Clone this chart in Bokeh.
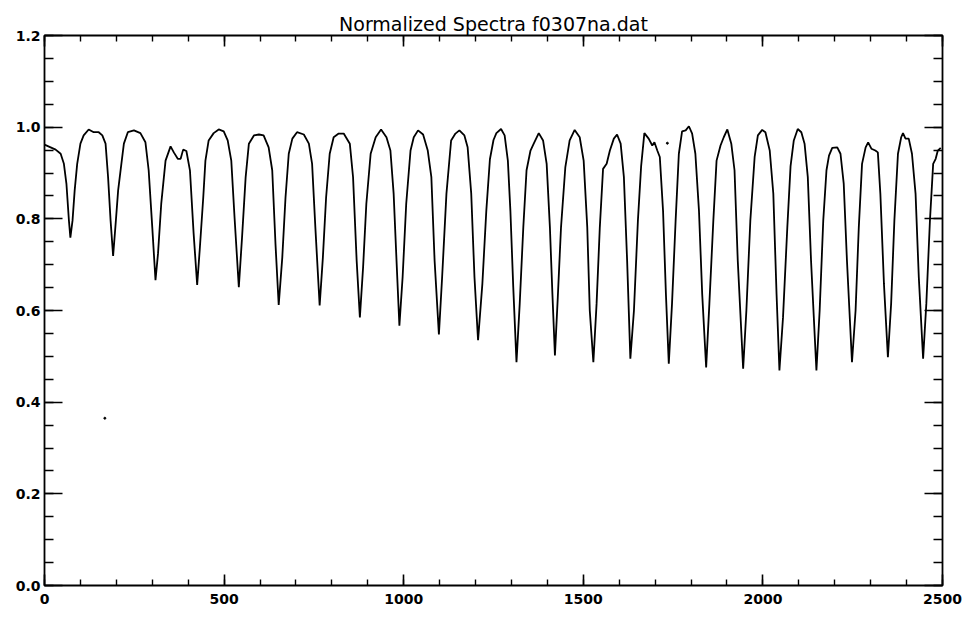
from bokeh.plotting import figure
from bokeh.models import Range1d, LinearAxis, FixedTicker, PrintfTickFormatter, CustomJSTickFormatter
from bokeh.embed import file_html
from bokeh.resources import INLINE

# ---- data ----
pixel = [0, 17, 31, 45, 54, 61, 68, 72, 78, 84, 91, 100, 109, 123, 137, 151, 161, 170, 177, 184,
         191, 198, 205, 214, 221, 232, 249, 267, 281, 290, 300, 309, 316, 325, 337, 351, 360, 371, 379, 386,
         395, 405, 415, 425, 432, 442, 448, 457, 471, 485, 499, 510, 520, 529, 541, 550, 560, 569, 583, 597,
         610, 624, 634, 643, 652, 662, 671, 680, 690, 703, 722, 736, 745, 754, 766, 775, 784, 794, 805, 819,
         833, 850, 859, 869, 878, 887, 896, 908, 922, 937, 952, 963, 972, 980, 988, 997, 1007, 1019, 1028, 1040,
         1054, 1067, 1077, 1086, 1098, 1107, 1119, 1132, 1144, 1155, 1169, 1178, 1188, 1197, 1207, 1219, 1230, 1240, 1250, 1258,
         1271, 1281, 1290, 1297, 1305, 1314, 1323, 1333, 1342, 1353, 1362, 1376, 1388, 1398, 1407, 1414, 1421, 1429, 1438, 1450,
         1462, 1476, 1490, 1501, 1511, 1518, 1528, 1537, 1546, 1555, 1565, 1574, 1585, 1594, 1604, 1613, 1622, 1631, 1641, 1652,
         1661, 1670, 1682, 1692, 1698, 1706, 1713, 1722, 1730, 1738, 1747, 1757, 1766, 1775, 1785, 1794, 1803, 1812, 1822, 1831,
         1842, 1851, 1862, 1871, 1882, 1891, 1901, 1912, 1921, 1930, 1945, 1954, 1965, 1977, 1986, 1998, 2007, 2019, 2029, 2038,
         2046, 2056, 2068, 2077, 2086, 2097, 2107, 2116, 2125, 2134, 2149, 2158, 2168, 2177, 2184, 2193, 2207, 2216, 2225, 2234,
         2248, 2258, 2267, 2276, 2286, 2293, 2302, 2313, 2320, 2327, 2337, 2348, 2357, 2366, 2376, 2385, 2390, 2397, 2406, 2415,
         2425, 2434, 2446, 2455, 2465, 2474, 2481, 2487, 2495]
flux = [0.962, 0.956, 0.951, 0.942, 0.920, 0.877, 0.796, 0.759, 0.796, 0.862, 0.920, 0.964, 0.982, 0.995, 0.989, 0.989, 0.982, 0.964, 0.891, 0.796,
        0.719, 0.789, 0.862, 0.920, 0.964, 0.989, 0.993, 0.987, 0.967, 0.906, 0.782, 0.666, 0.724, 0.833, 0.927, 0.958, 0.945, 0.931, 0.931, 0.951,
        0.948, 0.905, 0.770, 0.656, 0.731, 0.847, 0.927, 0.971, 0.987, 0.995, 0.991, 0.971, 0.927, 0.804, 0.651, 0.760, 0.891, 0.964, 0.982, 0.984,
        0.982, 0.956, 0.906, 0.746, 0.612, 0.716, 0.847, 0.942, 0.975, 0.989, 0.984, 0.964, 0.920, 0.782, 0.611, 0.716, 0.847, 0.942, 0.978, 0.986,
        0.986, 0.964, 0.891, 0.709, 0.585, 0.695, 0.833, 0.942, 0.978, 0.995, 0.978, 0.949, 0.855, 0.709, 0.567, 0.673, 0.833, 0.949, 0.978, 0.993,
        0.984, 0.949, 0.891, 0.709, 0.548, 0.673, 0.855, 0.971, 0.986, 0.993, 0.982, 0.956, 0.855, 0.673, 0.535, 0.658, 0.818, 0.930, 0.972, 0.987,
        0.996, 0.982, 0.927, 0.818, 0.651, 0.487, 0.615, 0.782, 0.906, 0.949, 0.964, 0.987, 0.971, 0.920, 0.782, 0.636, 0.502, 0.629, 0.782, 0.913,
        0.971, 0.994, 0.978, 0.927, 0.782, 0.600, 0.487, 0.615, 0.782, 0.909, 0.920, 0.949, 0.975, 0.984, 0.964, 0.891, 0.709, 0.495, 0.600, 0.796,
        0.915, 0.987, 0.975, 0.960, 0.967, 0.949, 0.935, 0.818, 0.636, 0.484, 0.615, 0.796, 0.942, 0.991, 0.993, 1.002, 0.986, 0.942, 0.818, 0.636,
        0.476, 0.615, 0.796, 0.927, 0.960, 0.978, 0.995, 0.964, 0.906, 0.709, 0.473, 0.600, 0.796, 0.935, 0.982, 0.994, 0.989, 0.949, 0.855, 0.636,
        0.469, 0.585, 0.782, 0.915, 0.971, 0.996, 0.989, 0.964, 0.891, 0.709, 0.469, 0.600, 0.796, 0.906, 0.938, 0.955, 0.956, 0.942, 0.877, 0.709,
        0.487, 0.600, 0.782, 0.920, 0.956, 0.967, 0.953, 0.949, 0.945, 0.855, 0.658, 0.498, 0.615, 0.796, 0.942, 0.978, 0.987, 0.975, 0.975, 0.942,
        0.855, 0.673, 0.495, 0.615, 0.796, 0.920, 0.931, 0.949, 0.955]
stray_x = [168, 1734]
stray_y = [0.365, 0.965]

x_major = [0, 500, 1000, 1500, 2000, 2500]
x_minor = list(range(0, 2501, 100))
y_major = [0.0, 0.2, 0.4, 0.6, 0.8, 1.0, 1.2]
y_minor = [round(i * 0.05, 2) for i in range(25)]

p = figure(output_backend="svg", toolbar_location=None,
           x_range=Range1d(0, 2500), y_range=Range1d(0, 1.2),
           title="Normalized Spectra f0307na.dat")
p.frame_width = 898
p.frame_height = 550
p.min_border_left = 44
p.min_border_right = 20
p.min_border_top = 35
p.min_border_bottom = 34
p.background_fill_color = "white"
p.border_fill_color = "white"
p.outline_line_color = "black"
p.outline_line_width = 1.8
p.grid.visible = False

p.title.text_font = "DejaVu Sans"
p.title.text_font_size = "19px"
p.title.text_font_style = "normal"
p.title.align = "center"
p.title.text_color = "black"
p.title.standoff = 2

p.line(pixel, flux, line_color="black", line_width=1.8)
p.scatter(stray_x, stray_y, size=2, color="black")

bottom = p.below[0]
left = p.left[0]
top = LinearAxis()
right = LinearAxis()
p.add_layout(top, "above")
p.add_layout(right, "right")

for ax in [bottom, top]:
    ax.ticker = FixedTicker(ticks=x_major, minor_ticks=x_minor)
    ax.major_tick_in = 11
    ax.major_tick_out = 0
    ax.minor_tick_in = 6
    ax.minor_tick_out = 0
for ax in [left, right]:
    ax.ticker = FixedTicker(ticks=y_major, minor_ticks=y_minor)
    ax.major_tick_in = 18
    ax.major_tick_out = 0
    ax.minor_tick_in = 9
    ax.minor_tick_out = 0

for ax in [bottom, top, left, right]:
    ax.axis_line_color = None
    ax.major_tick_line_color = "black"
    ax.minor_tick_line_color = "black"
    ax.major_tick_line_width = 1.6
    ax.minor_tick_line_width = 1.4
    ax.major_label_text_font = "DejaVu Sans"
    ax.major_label_text_font_size = "14px"
    ax.major_label_text_font_style = "bold"
    ax.major_label_text_color = "black"

bottom.formatter = PrintfTickFormatter(format="%d")
left.formatter = PrintfTickFormatter(format="%.1f")
bottom.major_label_standoff = 8
left.major_label_standoff = 4
for ax in [top, right]:
    ax.formatter = CustomJSTickFormatter(code="return '';")
    ax.major_label_standoff = 0

open("out.html", "w").write(file_html(p, INLINE))
